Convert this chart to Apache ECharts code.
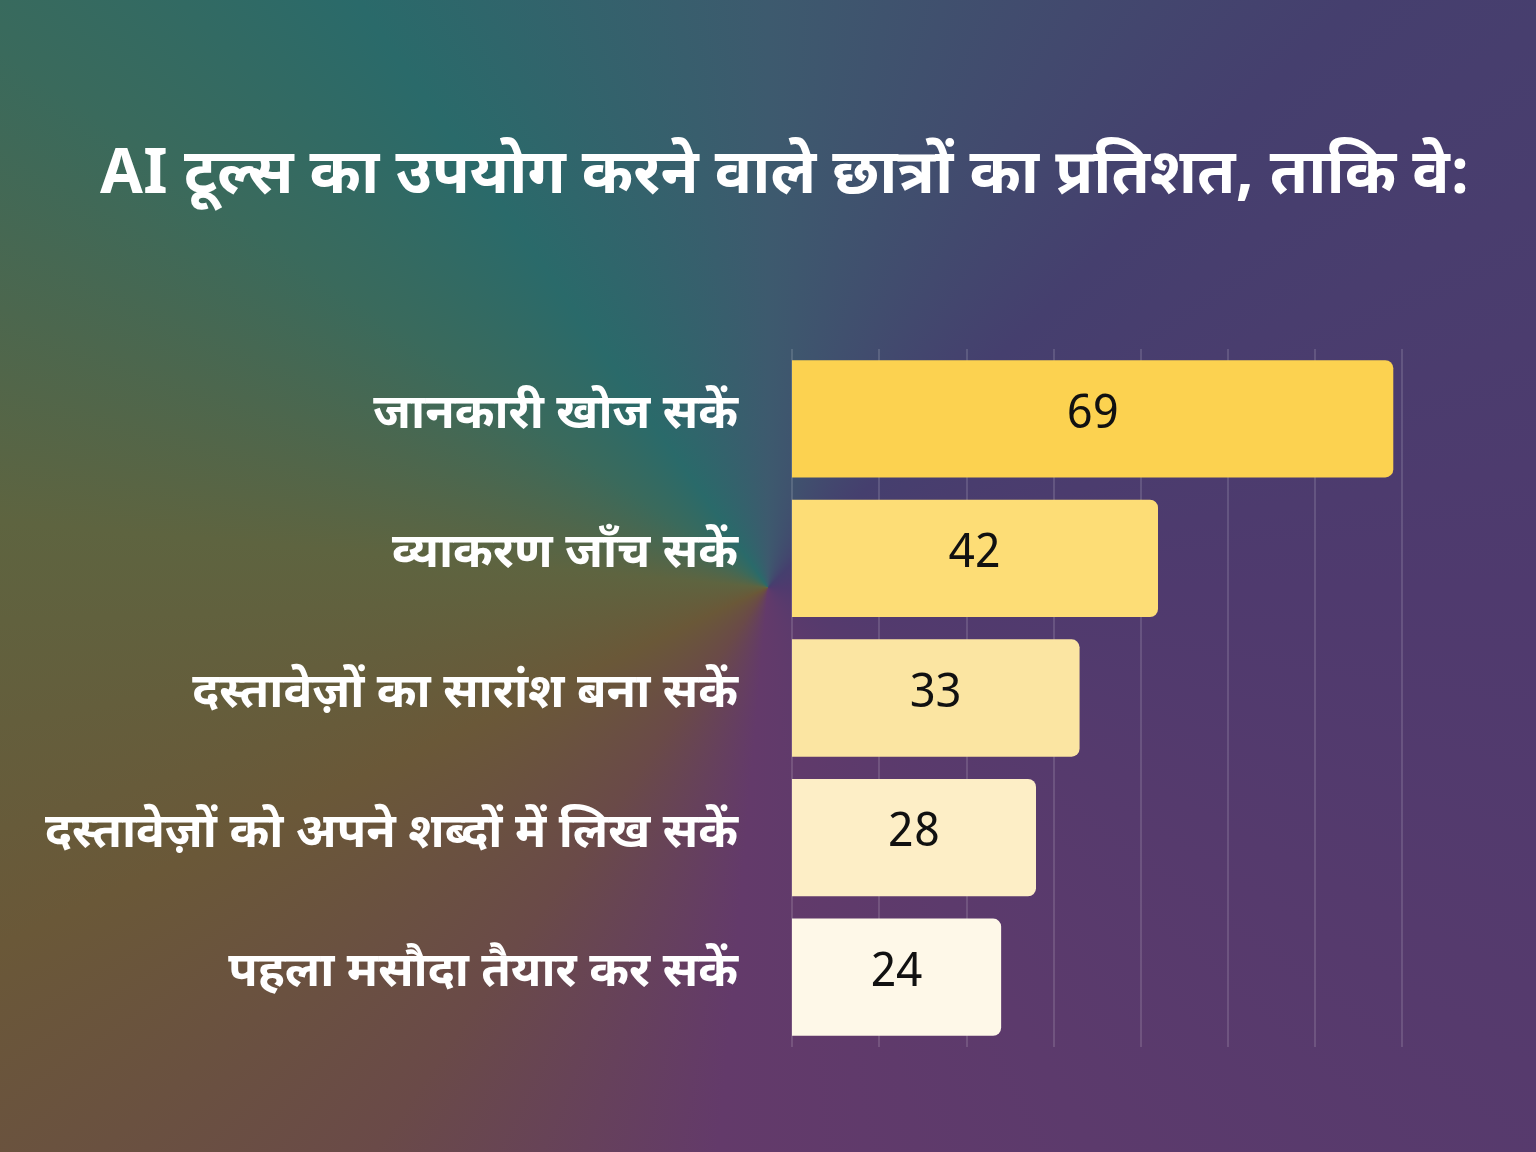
<!DOCTYPE html>
<html><head><meta charset="utf-8">
<script src="https://cdn.jsdelivr.net/npm/echarts@6/dist/echarts.min.js"></script>
<style>
html,body{margin:0;padding:0;width:1536px;height:1152px;overflow:hidden;}
body{background:conic-gradient(from 0deg at 50% 51%, #3d5a6e 0deg, #453f6e 45deg, #4f3a6e 90deg, #5c3a6c 150deg, #633a6a 185deg, #6a4a48 215deg, #6a5838 245deg, #5e6440 275deg, #3a6a5c 305deg, #2a6a6a 325deg, #3d5a6e 360deg);}
#c{width:1536px;height:1152px;}
</style></head><body><div id="c"></div>
<script>
const title = 'AI टूल्स का उपयोग करने वाले छात्रों का प्रतिशत, ताकि वे:';
const categories = ['जानकारी खोज सकें','व्याकरण जाँच सकें','दस्तावेज़ों का सारांश बना सकें','दस्तावेज़ों को अपने शब्दों में लिख सकें','पहला मसौदा तैयार कर सकें'];
const values = [69,42,33,28,24];
const barColors = ['#FCD250','#FDDD76','#FBE5A2','#FDEEC6','#FEF8E8'];
const font = "'Noto Sans Devanagari','Noto Sans','Noto Sans CJK SC',sans-serif";
const chart = echarts.init(document.getElementById('c'));
chart.setOption({
  backgroundColor:'transparent',
  title:{text:title,left:780,textAlign:'center',top:145,textStyle:{color:'#fff',fontSize:62,fontWeight:'bold',fontFamily:font}},
  grid:{left:792,right:134,top:349,bottom:105},
  xAxis:{type:'value',min:0,max:70,interval:10,axisLabel:{show:false},axisLine:{show:false},axisTick:{show:false},
    splitLine:{lineStyle:{color:'rgba(255,255,255,0.18)',width:1.5}}},
  yAxis:{type:'category',inverse:true,data:categories,axisLine:{show:false},axisTick:{show:false},
    axisLabel:{color:'#fff',fontSize:48,fontWeight:'bold',fontFamily:font,margin:54,padding:[6,0,0,0]}},
  series:[{type:'bar',barCategoryGap:'16%',
    data:values.map((v,i)=>({value:v,itemStyle:{color:barColors[i]}})),
    itemStyle:{borderRadius:[0,8,8,0]},
    label:{show:true,position:'inside',color:'#111',fontSize:47,fontFamily:font}}]
});
</script></body></html>
